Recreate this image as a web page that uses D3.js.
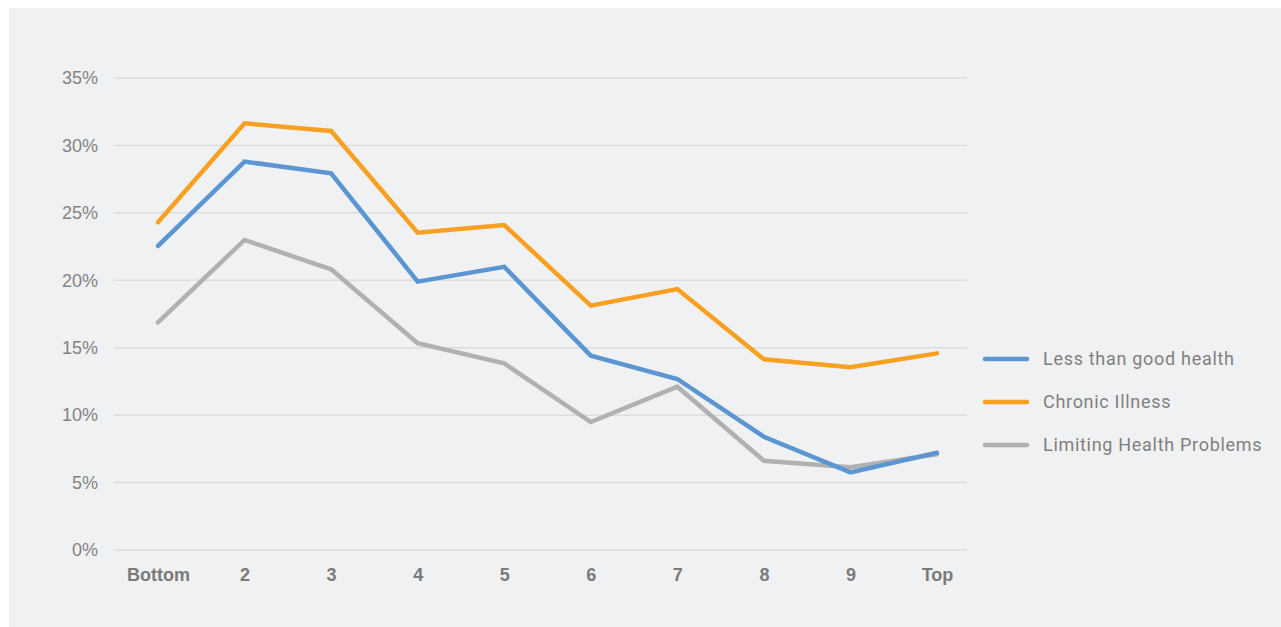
<!DOCTYPE html>
<html>
<head>
<meta charset="utf-8">
<script src="https://cdn.jsdelivr.net/npm/d3@7"></script>
<style>
  html, body { margin: 0; padding: 0; background: #fff; }
  svg { display: block; font-family: Roboto, "Noto Sans", sans-serif; }
  .tick-y { fill: #838383; font-size: 18px; }
  .tick-x { fill: #7a7a7a; font-size: 18px; font-weight: 700; }
  .legend { fill: #808080; font-size: 18px; letter-spacing: 0.7px; }
</style>
</head>
<body>
<div id="chart"></div>
<script>
const categories = ["Bottom", "2", "3", "4", "5", "6", "7", "8", "9", "Top"];
const lessThanGood = [22.55, 28.8, 27.93, 19.9, 21.0, 14.41, 12.68, 8.4, 5.76, 7.21];
const chronicIllness = [24.3, 31.64, 31.07, 23.53, 24.1, 18.12, 19.35, 14.14, 13.55, 14.58];
const limitingHealth = [16.88, 22.99, 20.81, 15.33, 13.84, 9.49, 12.11, 6.62, 6.13, 7.1];
const yTicks = [0, 5, 10, 15, 20, 25, 30, 35];

const series = [
  { name: "Less than good health", values: lessThanGood, color: "#5b96d2" },
  { name: "Chronic Illness", values: chronicIllness, color: "#f8a022" },
  { name: "Limiting Health Problems", values: limitingHealth, color: "#b1b1b3" },
];
// drawing order: gray under blue, orange on top
const drawOrder = [series[2], series[0], series[1]];

const width = 1281, height = 627;
const svg = d3.select("#chart").append("svg").attr("width", width).attr("height", height);

svg.append("rect").attr("x", 9).attr("y", 8).attr("width", width - 9).attr("height", height - 8).attr("fill", "#f0f1f3");

const gridLeft = 114, gridRight = 967;
const x = d3.scalePoint().domain(categories).range([158, 937]);
const y = d3.scaleLinear().domain([0, 35]).range([550, 78]);

// gridlines
svg.append("g")
  .selectAll("line")
  .data(yTicks)
  .join("line")
  .attr("x1", gridLeft)
  .attr("x2", gridRight)
  .attr("y1", (d) => y(d))
  .attr("y2", (d) => y(d))
  .attr("stroke", "#dcdde0")
  .attr("stroke-width", 1.5);

// y axis labels
const yAxis = svg.append("g")
  .attr("transform", `translate(${gridLeft},0)`)
  .call(d3.axisLeft(y).tickValues(yTicks).tickSize(0).tickPadding(16).tickFormat((d) => d + "%"));
yAxis.select(".domain").remove();
yAxis.selectAll("text").attr("class", "tick-y").attr("font-family", null).attr("font-size", null).attr("fill", null);

// x axis labels
const xAxis = svg.append("g")
  .attr("transform", `translate(0,${y(0)})`)
  .call(d3.axisBottom(x).tickSize(0).tickPadding(18));
xAxis.select(".domain").remove();
xAxis.selectAll("text").attr("class", "tick-x").attr("font-family", null).attr("font-size", null).attr("fill", null);

const line = d3.line()
  .x((d, i) => x(categories[i]))
  .y((d) => y(d));

svg.append("g")
  .selectAll("path")
  .data(drawOrder)
  .join("path")
  .attr("d", (d) => line(d.values))
  .attr("fill", "none")
  .attr("stroke", (d) => d.color)
  .attr("stroke-width", 4.5)
  .attr("stroke-linejoin", "miter")
  .attr("stroke-linecap", "round");

// legend
const legend = svg.append("g").attr("transform", "translate(985,359)");
const items = legend.selectAll("g")
  .data(series)
  .join("g")
  .attr("transform", (d, i) => `translate(0,${i * 43})`);
items.append("line")
  .attr("x1", 0).attr("x2", 42)
  .attr("stroke", (d) => d.color)
  .attr("stroke-width", 4.5)
  .attr("stroke-linecap", "round");
items.append("text")
  .attr("class", "legend")
  .attr("x", 58)
  .attr("dy", "0.36em")
  .text((d) => d.name);
</script>
</body>
</html>
